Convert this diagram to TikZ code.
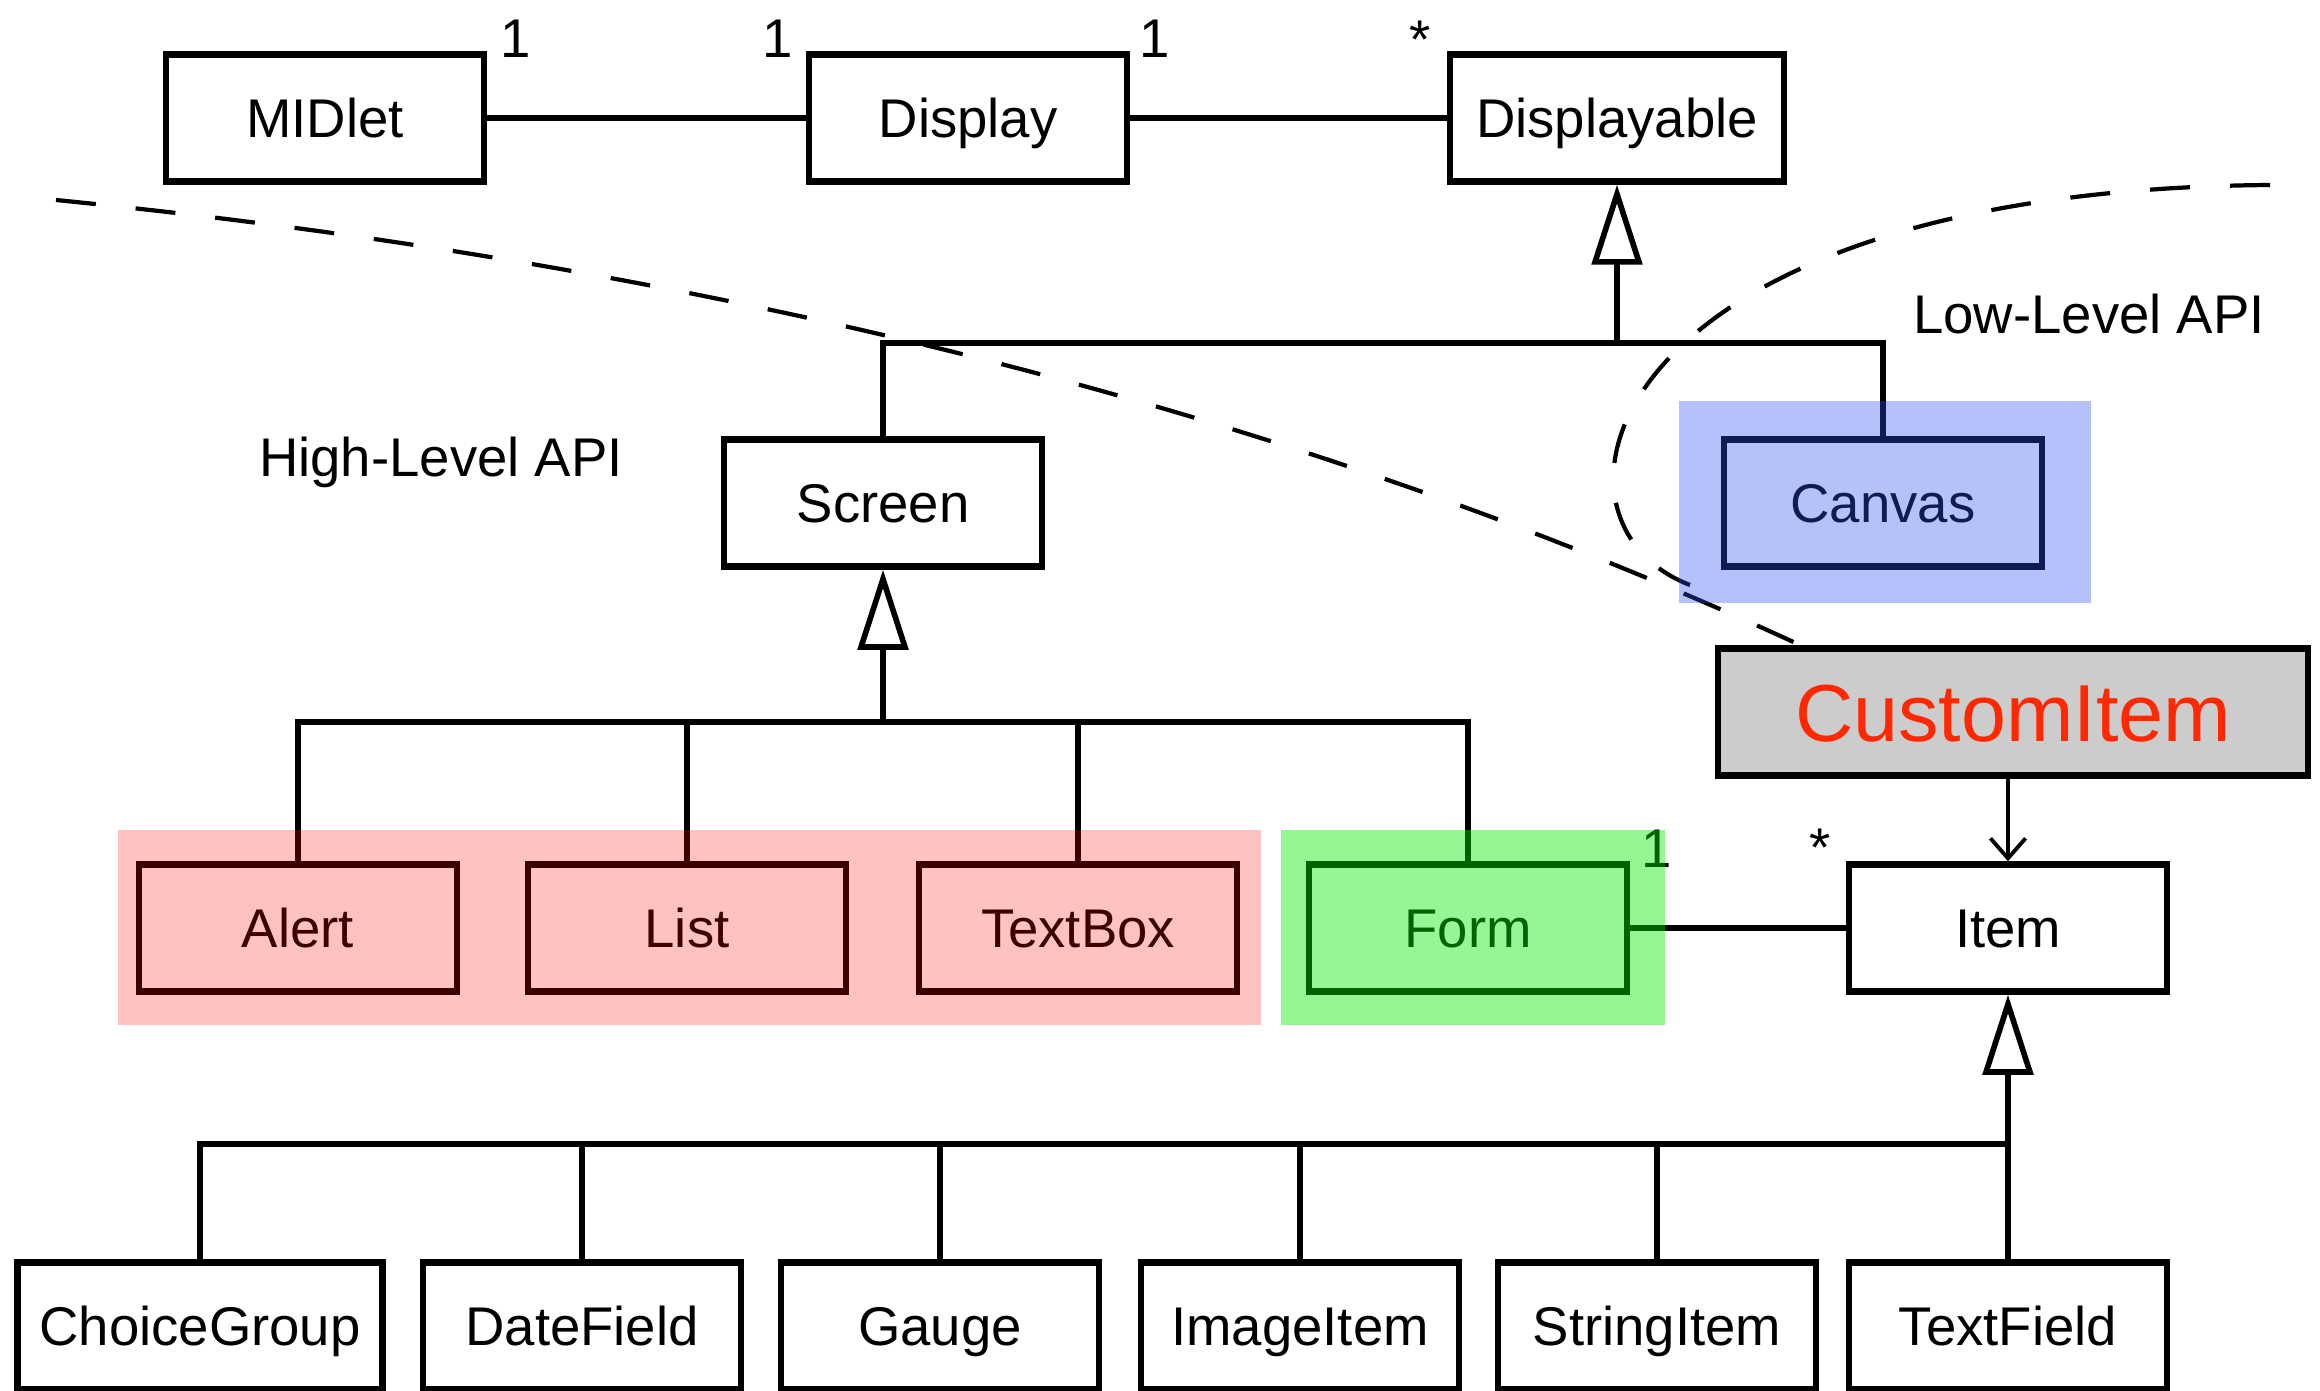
\documentclass[tikz,border=0pt]{standalone}
\usepackage{fontspec}
\setmainfont{Liberation Sans}
\usetikzlibrary{arrows.meta}

\definecolor{hlred}{RGB}{255,0,0}
\definecolor{hlgreen}{RGB}{0,235,0}
\definecolor{hlblue}{RGB}{46,75,240}
\definecolor{custred}{RGB}{255,40,0}
\definecolor{custgray}{RGB}{204,204,204}

\tikzset{
  cls/.style={draw, line width=1.8pt, fill=white, inner sep=0pt,
    minimum width=3.18cm, minimum height=1.27cm,
    text height=14.4pt, text depth=3.2pt,
    font=\fontsize{15.5}{18}\selectfont},
  mult/.style={inner sep=0pt, font=\fontsize{15.5}{18}\selectfont},
  assoc/.style={line width=1.6pt},
  inherit/.style={line width=1.6pt, -{Triangle[open, length=8mm, width=5mm]}},
  depend/.style={line width=1.1pt, -{Straight Barb[length=2mm, width=3.5mm]}},
  apiline/.style={line width=1.2pt, dash pattern=on 0.4cm off 0.4cm},
  hilite/.style={draw=none, fill opacity=#1}
}

\begin{document}
\begin{tikzpicture}[x=0.01cm, y=-0.01cm]
\useasboundingbox (0,0) rectangle (2320,1391);

% top row
\node[cls] (midlet)      at ( 325,118) {MIDlet};
\node[cls] (display)     at ( 968,118) {Display};
\node[cls, minimum width=3.34cm] (displayable) at (1617,118) {Displayable};

\draw[assoc] (midlet) -- (display);
\draw[assoc] (display) -- (displayable);

\node[mult] (mMidlet)   at ( 516, 39) {1};
\node[mult] (mDispL)    at ( 778, 39) {1};
\node[mult] (mDispR)    at (1155, 39) {1};
\node[mult] (mDisplble) at (1420, 40) {*};

% Screen and Canvas
\node[cls] (screen) at ( 883,503) {Screen};
\node[cls] (canvas) at (1883,503) {Canvas};

\coordinate (busTop) at (1617,343);
\draw[assoc] (screen.north) |- (busTop) -| (canvas.north);
\draw[inherit] (busTop) -- (displayable.south);

\node[mult] (highApi) at ( 441,462) {High-Level API};
\node[mult] (lowApi)  at (2089,314) {Low-Level API};

% Screen subclasses
\node[cls] (alert)   at ( 298,928) {Alert};
\node[cls] (list)    at ( 687,928) {List};
\node[cls] (textbox) at (1078,928) {TextBox};
\node[cls] (form)    at (1468,928) {Form};

\coordinate (busScr) at (883,722);
\draw[assoc] (alert.north) |- (busScr) -| (form.north);
\draw[assoc] (list.north) -- (list.north |- busScr);
\draw[assoc] (textbox.north) -- (textbox.north |- busScr);
\draw[inherit] (busScr) -- (screen.south);

% Item and CustomItem
\node[cls] (item) at (2008,928) {Item};
\node[cls, fill=custgray, minimum width=5.9cm, text=custred,
  text height=21.6pt, text depth=4.8pt,
  font=\fontsize{23}{27}\selectfont] (custom) at (2013,712) {CustomItem};

\draw[assoc] (form) -- (item);
\node[mult] (mForm) at (1657,849) {1};
\node[mult] (mItem) at (1820,848) {*};
\draw[depend] (item.north |- custom.south) -- (item.north);

% Item subclasses
\node[cls, minimum width=3.65cm] (choice) at ( 200,1326) {ChoiceGroup};
\node[cls] (datefield)  at ( 582,1326) {DateField};
\node[cls] (gauge)      at ( 940,1326) {Gauge};
\node[cls] (imageitem)  at (1300,1326) {ImageItem};
\node[cls] (stringitem) at (1657,1326) {StringItem};
\node[cls] (textfield)  at (2008,1326) {TextField};

\coordinate (busItem) at (2008,1144);
\draw[assoc] (choice.north) |- (busItem) -- (textfield.north);
\draw[assoc] (datefield.north) -- (datefield.north |- busItem);
\draw[assoc] (gauge.north) -- (gauge.north |- busItem);
\draw[assoc] (imageitem.north) -- (imageitem.north |- busItem);
\draw[assoc] (stringitem.north) -- (stringitem.north |- busItem);
\draw[inherit] (busItem) -- (item.south);

% API borders
\coordinate (hiStart) at (56,200);
\coordinate (hiEnd)   at (1800,645);
\coordinate (loStart) at (2270,185);
\coordinate (loEnd)   at (1690,585);
\draw[apiline] (hiStart) .. controls (717,266) and (1299,414) .. (hiEnd);
\draw[apiline] (loStart) .. controls (1600,190) and (1520,520) .. (loEnd);

% highlights
\fill[hilite=0.24, hlred]   (118,830) rectangle (1261,1025);
\fill[hilite=0.42, hlgreen] (1281,830) rectangle (1665,1025);
\fill[hilite=0.35, hlblue]  (1679,401) rectangle (2091,603);

\end{tikzpicture}
\end{document}
